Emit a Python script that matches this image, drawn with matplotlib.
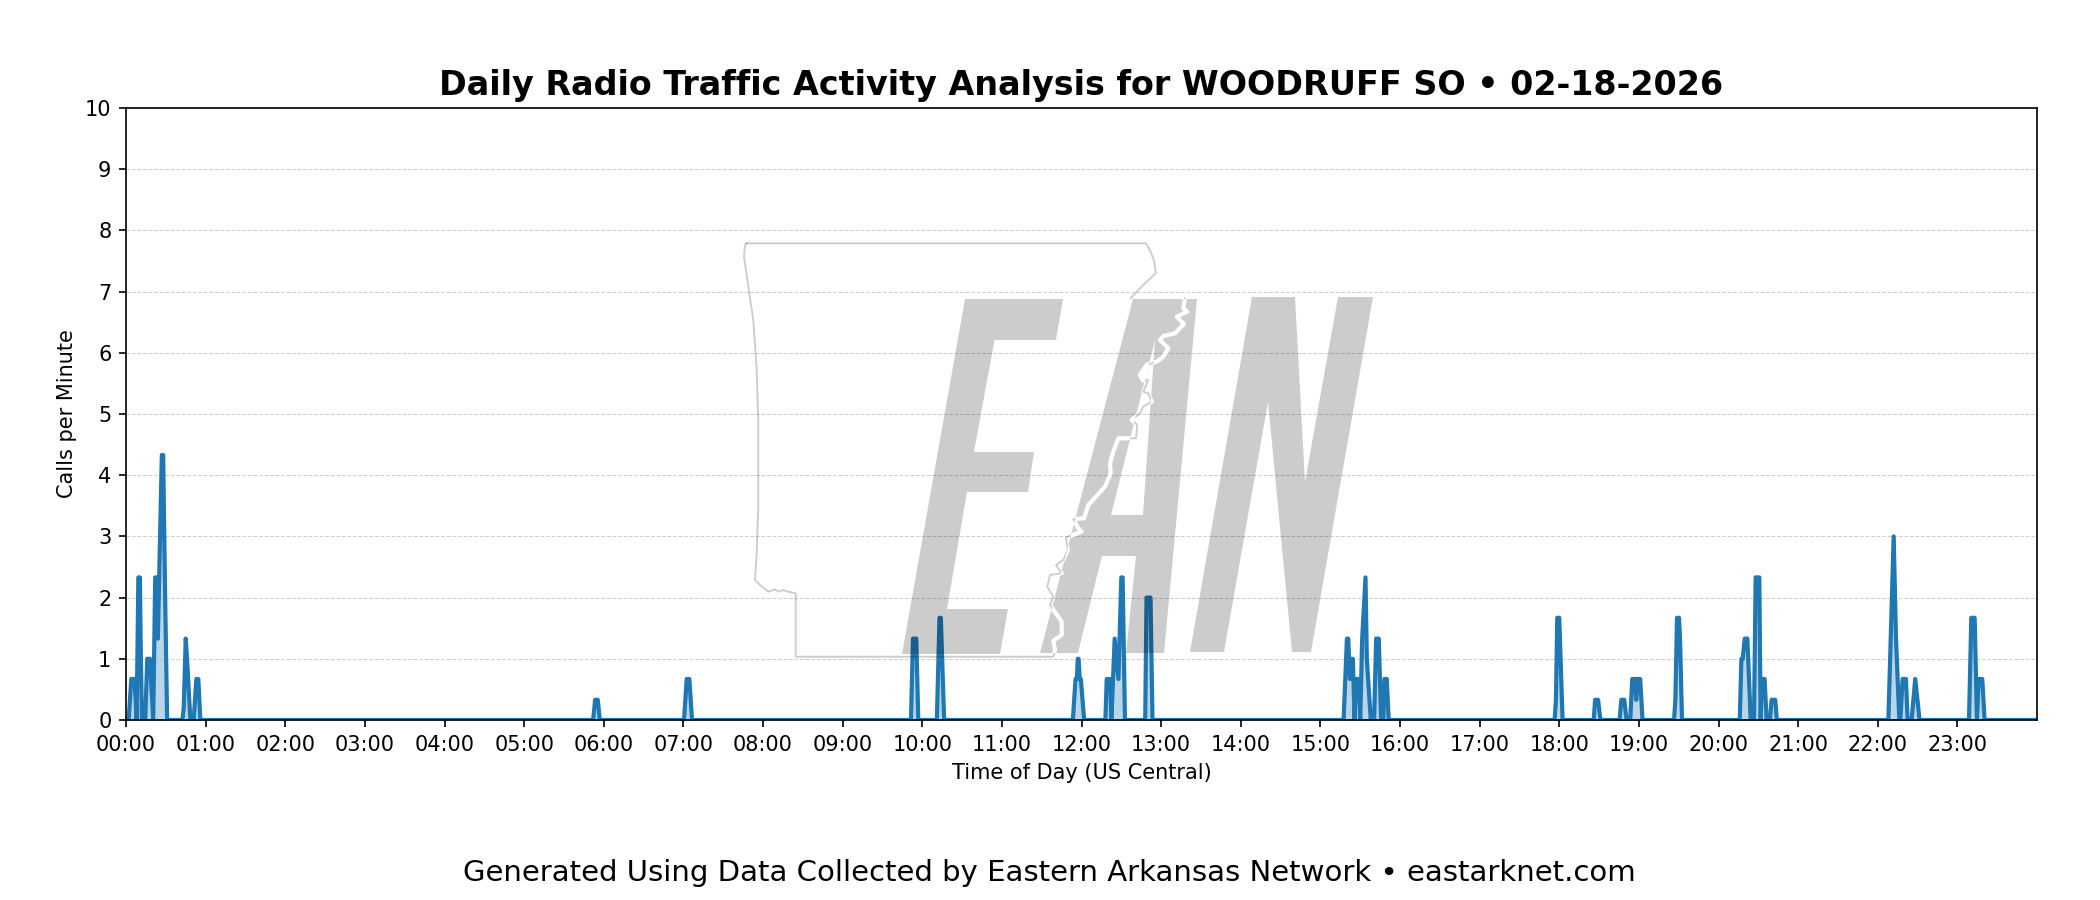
from matplotlib import pyplot as plt
from matplotlib.path import Path
from matplotlib.patches import Polygon, PathPatch

# Minute of day and calls per minute
minutes_overnight = [0, 2, 4, 6.5, 8, 9.3, 10.5, 11, 12, 14.5, 16, 18, 20.5, 22, 23, 24, 27, 28, 29.5, 31,
                     42.5, 43.5, 45, 46, 48.5, 51, 53, 54.5, 56, 352, 353.5, 355.5, 357, 420.5, 422.5, 424.5, 426.5]
calls_overnight = [0, 0, 0.67, 0.67, 0, 2.33, 2.33, 1.33, 0, 0, 1, 1, 0, 2.33, 2.33, 1.33, 4.33, 4.33, 2, 0,
                   0, 0.2, 1.33, 1, 0, 0, 0.67, 0.67, 0, 0, 0.33, 0.33, 0, 0, 0.67, 0.67, 0]

minutes_midday = [591.5, 593, 595.5, 597, 611, 613, 614, 616.5,
                  713.5, 715.5, 716.5, 717.2, 717.8, 718.7, 719.5, 722,
                  738, 739, 741.5, 742.5, 745, 747.8, 750, 751, 752.75, 768, 769, 772, 773.5]
calls_midday = [0, 1.33, 1.33, 0, 0, 1.67, 1.67, 0,
                0, 0.67, 0.67, 1, 1, 0.67, 0.67, 0,
                0, 0.67, 0.67, 0, 1.33, 0.67, 2.33, 2.33, 0, 0, 2, 2, 0]

minutes_afternoon = [917.5, 920, 921, 922.25, 923, 924.5, 925.75, 927, 929, 930, 931.5, 934, 935, 937, 938,
                     940.5, 942, 944, 945.75, 947.5, 948.25, 950, 951.5,
                     1076.5, 1077.5, 1078.5, 1080, 1081, 1082.5, 1106, 1107, 1109.25, 1111, 1125.5, 1126.75, 1129, 1130.75,
                     1133.5, 1135, 1137, 1138, 1139, 1141, 1142.75, 1166.5, 1167.5, 1168.75, 1170.25, 1171, 1172.5]
calls_afternoon = [0, 1.33, 1.33, 0.67, 1, 1, 0, 0.67, 0.67, 0, 1.33, 2.33, 1, 0.33, 0,
                   0, 1.33, 1.33, 0, 0, 0.67, 0.67, 0,
                   0, 0.33, 1.67, 1.67, 1, 0, 0, 0.33, 0.33, 0, 0, 0.33, 0.33, 0,
                   0, 0.67, 0.67, 0.33, 0.67, 0.67, 0, 0, 0.33, 1.67, 1.67, 1.33, 0]

minutes_evening = [1216, 1217.25, 1218.25, 1219.75, 1221.75, 1224.25, 1226.75, 1228, 1230.75, 1231.75, 1232.75,
                   1234.75, 1236.25, 1238.75, 1240, 1242.75, 1244, 1328, 1329.75, 1332, 1333.75, 1336.25,
                   1337, 1338.75, 1341.25, 1342.5, 1345.5, 1348.25, 1351.5,
                   1388.75, 1390.5, 1393, 1394.75, 1396, 1398.75, 1400.5, 1440]
calls_evening = [0, 1, 1, 1.33, 1.33, 0, 0, 2.33, 2.33, 0, 0.67,
                 0.67, 0, 0, 0.33, 0.33, 0, 0, 1.33, 3, 1.33, 0,
                 0, 0.67, 0.67, 0, 0, 0.67, 0,
                 0, 1.67, 1.67, 0, 0.67, 0.67, 0, 0]

minutes = minutes_overnight + minutes_midday + minutes_afternoon + minutes_evening
calls = calls_overnight + calls_midday + calls_afternoon + calls_evening

tick_minutes = [h * 60 for h in range(24)]
tick_labels = [f'{h:02d}:00' for h in range(24)]

# Watermark shapes, in pixels of the 2100x900 image
letter_e = [(965, 299), (1063, 299), (1056, 340), (994.5, 340), (974, 452), (1034, 452), (1028, 492),
            (967, 492), (947, 609), (1008, 609), (1000, 654), (902, 654)]
letter_a = [(1133, 299), (1197, 299), (1164, 653), (1126, 653), (1136, 556), (1102, 556), (1078, 653), (1040, 653)]
letter_a_hole = [(1155, 340), (1111, 515), (1143, 515)]
letter_n = [(1252, 297), (1295, 297), (1305, 482), (1338, 297), (1373, 297), (1311, 652), (1292, 652),
            (1268, 402), (1224, 652), (1190, 652)]

state_north = [(746.7, 243.3), (1146, 243.3), (1150.7, 251.7), (1154.3, 261.7), (1155.7, 273.3), (1145, 283.3),
               (1138.3, 290), (1130.7, 298.3)]
state_river = [(1185, 298.3), (1183.3, 308.3), (1187.3, 311.7), (1176.7, 316.7), (1184, 324),
               (1175, 333.3), (1163.3, 336), (1160, 340), (1168.3, 348.3), (1163.3, 356.7), (1156.7, 361.7),
               (1146.7, 365), (1140, 375), (1143.3, 380.7), (1148.3, 380), (1143.3, 391.7), (1148.3, 393.3),
               (1151.7, 401.7), (1143.3, 406.7), (1140, 413.3), (1131.7, 420), (1137.3, 425), (1136, 438.3),
               (1118.3, 438.3), (1113.3, 451.7), (1110, 463.3), (1110.7, 473.3), (1105, 486.7), (1088.3, 505),
               (1084, 518.3), (1073.3, 519), (1078.3, 528.3), (1081.7, 531.7), (1066, 537.3), (1067.7, 550),
               (1063.3, 560), (1056, 565), (1061.7, 573.3), (1050, 575), (1047.3, 586.7), (1053.3, 596.7),
               (1050, 605), (1061.7, 621.7), (1061.7, 635), (1053.3, 640.7), (1055, 650), (1053.3, 656.7)]
river_blob = [(1147, 362), (1152, 366), (1151, 376), (1145, 382), (1140, 380), (1139, 373)]
state_south = [(1053.3, 656.7), (795.7, 656.7), (795.7, 593.3), (788.3, 591.7), (783.3, 590), (778.3, 591.7),
               (775, 589.3), (768.3, 591.7), (760, 585), (755, 580), (756.7, 553.3), (758.3, 506.7),
               (758.3, 423.3), (756.7, 370), (753.3, 320), (748.3, 286.7), (744, 256.7), (745, 245), (746.7, 243.3)]

fig = plt.figure(figsize=(14, 6), dpi=150)
ax = fig.add_axes([0.06, 0.2, 0.91, 0.68])

ax.plot(minutes, calls, color='tab:blue', linewidth=2)
ax.fill_between(minutes, calls, color='tab:blue', alpha=0.3)

ax.set_xlim(0, 1440)
ax.set_ylim(0, 10)
ax.set_yticks(range(11))
ax.set_xticks(tick_minutes)
ax.set_xticklabels(tick_labels)
ax.grid(axis='y', linestyle='--', linewidth=0.5, alpha=0.6)
ax.set_xlabel('Time of Day (US Central)')
ax.set_ylabel('Calls per Minute')
ax.set_title('Daily Radio Traffic Activity Analysis for WOODRUFF SO \u2022 02-18-2026',
             fontsize=16, fontweight='bold')

fig.text(0.4995, 0.0305, 'Generated Using Data Collected by Eastern Arkansas Network \u2022 eastarknet.com',
         ha='center', va='center', fontsize=14)

# Overlay in image pixels for the logo, sits on top so the line shows through
logo = fig.add_axes([0, 0, 1, 1], zorder=5)
logo.set_xlim(0, 2100)
logo.set_ylim(900, 0)
logo.axis('off')

logo.plot(*zip(*state_north), color='black', alpha=0.2, linewidth=0.9)
logo.plot(*zip(*(state_river + state_south[1:])), color='black', alpha=0.2, linewidth=0.9)

logo.add_patch(Polygon(letter_e, closed=True, facecolor='black', alpha=0.2, edgecolor='none'))
logo.add_patch(Polygon(letter_n, closed=True, facecolor='black', alpha=0.2, edgecolor='none'))

# the A has a hole in it, so it needs a compound path
a_verts = letter_a + [letter_a[0]] + letter_a_hole + [letter_a_hole[0]]
a_codes = ([Path.MOVETO] + [Path.LINETO] * (len(letter_a) - 1) + [Path.CLOSEPOLY]
           + [Path.MOVETO] + [Path.LINETO] * (len(letter_a_hole) - 1) + [Path.CLOSEPOLY])
a_patch = PathPatch(Path(a_verts, a_codes), facecolor='black', alpha=0.2, edgecolor='none')
logo.add_patch(a_patch)

# river cuts through the A in white
river_line, = logo.plot(*zip(*state_river), color='white', linewidth=2)
river_line.set_clip_path(a_patch)
blob = Polygon(river_blob, closed=True, facecolor='white', edgecolor='none')
logo.add_patch(blob)
blob.set_clip_path(a_patch)

plt.savefig('out.png', dpi=150)
plt.close()
